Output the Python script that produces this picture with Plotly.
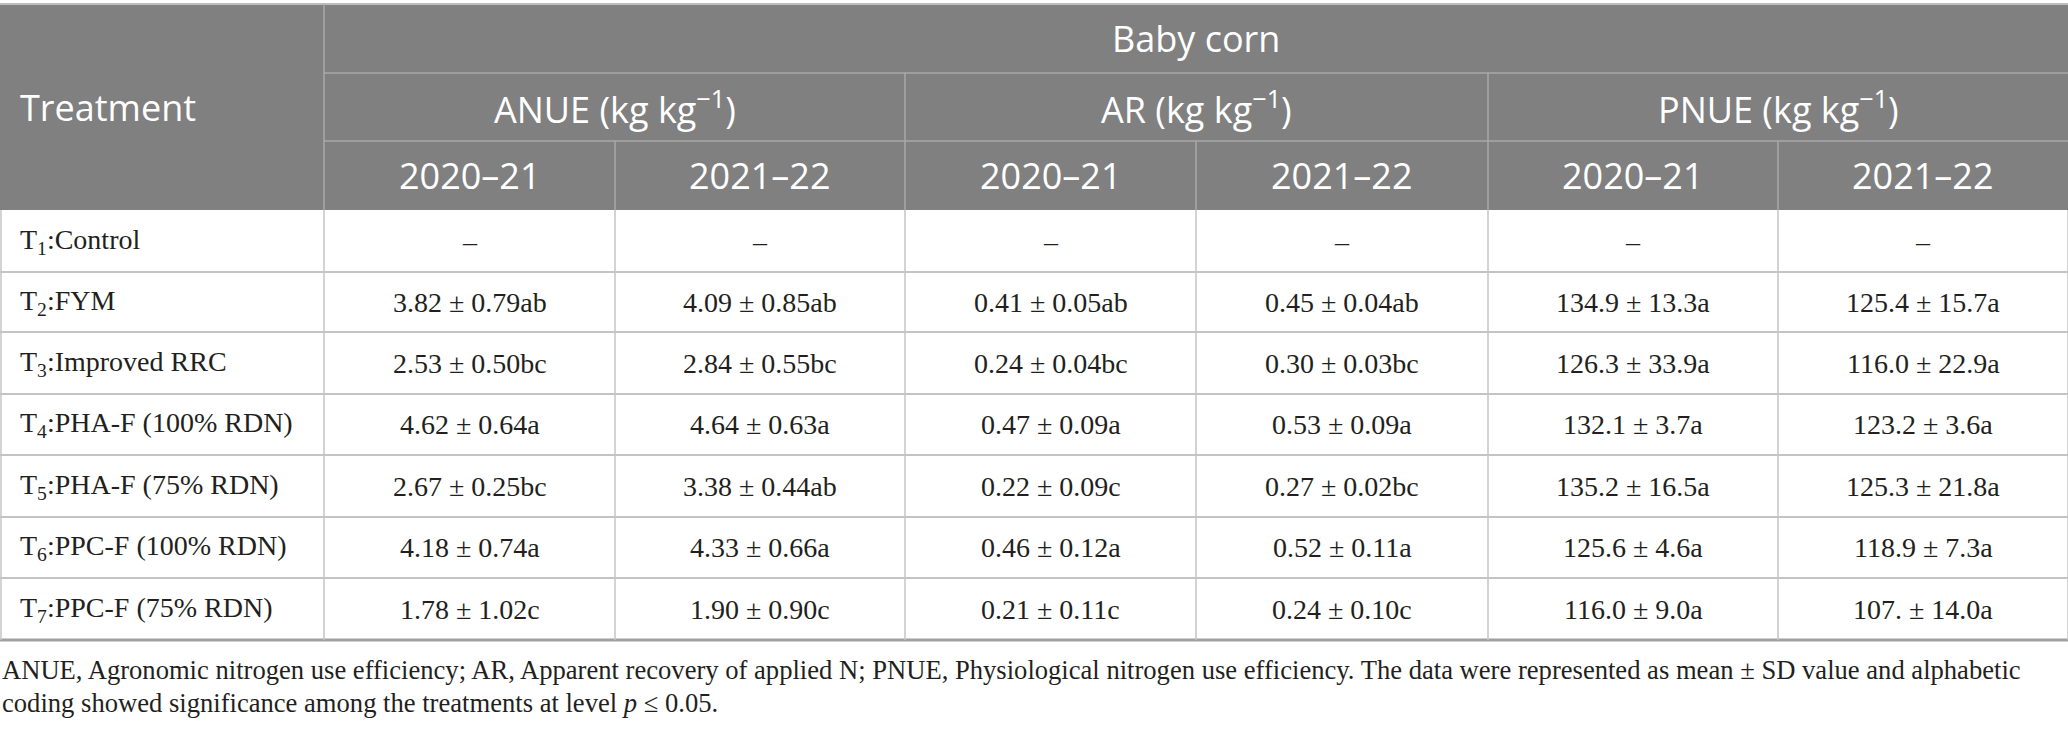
import plotly.graph_objects as go

# table content
treatments = ["T<sub>1</sub>:Control", "T<sub>2</sub>:FYM", "T<sub>3</sub>:Improved RRC",
              "T<sub>4</sub>:PHA-F (100% RDN)", "T<sub>5</sub>:PHA-F (75% RDN)",
              "T<sub>6</sub>:PPC-F (100% RDN)", "T<sub>7</sub>:PPC-F (75% RDN)"]
anue_2021 = ["–", "3.82 ± 0.79ab", "2.53 ± 0.50bc", "4.62 ± 0.64a", "2.67 ± 0.25bc", "4.18 ± 0.74a", "1.78 ± 1.02c"]
anue_2122 = ["–", "4.09 ± 0.85ab", "2.84 ± 0.55bc", "4.64 ± 0.63a", "3.38 ± 0.44ab", "4.33 ± 0.66a", "1.90 ± 0.90c"]
ar_2021 = ["–", "0.41 ± 0.05ab", "0.24 ± 0.04bc", "0.47 ± 0.09a", "0.22 ± 0.09c", "0.46 ± 0.12a", "0.21 ± 0.11c"]
ar_2122 = ["–", "0.45 ± 0.04ab", "0.30 ± 0.03bc", "0.53 ± 0.09a", "0.27 ± 0.02bc", "0.52 ± 0.11a", "0.24 ± 0.10c"]
pnue_2021 = ["–", "134.9 ± 13.3a", "126.3 ± 33.9a", "132.1 ± 3.7a", "135.2 ± 16.5a", "125.6 ± 4.6a", "116.0 ± 9.0a"]
pnue_2122 = ["–", "125.4 ± 15.7a", "116.0 ± 22.9a", "123.2 ± 3.6a", "125.3 ± 21.8a", "118.9 ± 7.3a", "107. ± 14.0a"]

group_title = "Baby corn"
metrics = ["ANUE (kg kg<sup>−1</sup>)", "AR (kg kg<sup>−1</sup>)", "PNUE (kg kg<sup>−1</sup>)"]
seasons = ["2020–21", "2021–22"]
footnote = ["ANUE, Agronomic nitrogen use efficiency; AR, Apparent recovery of applied N; PNUE, Physiological "
            "nitrogen use efficiency. The data were represented as mean ± SD value and alphabetic",
            "coding showed significance among the treatments at level <i>p</i> ≤ 0.05."]

# geometry (pixel units on the axes)
col_edges = [0, 324, 615, 905, 1196, 1488, 1778, 2068]
row_edges = [4, 73, 141, 210, 272, 332, 394, 455, 517, 578, 640]
W, H = 2068, 731

HEAD_BG = "#808080"
HEAD_LINE = "#a8a8a8"
GRID = "#c4c4c4"
TXT = "#231f20"
SANS = "Open Sans"
SERIF = "Liberation Serif"

fig = go.Figure()
shapes = []
annots = []

def line(x0, y0, x1, y1, color, width=1.5):
    shapes.append(dict(type="line", xref="x", yref="y", x0=x0, y0=y0, x1=x1, y1=y1,
                       line=dict(color=color, width=width), layer="above"))

def text(x, y, s, font, size, color, xanchor="center"):
    annots.append(dict(x=x, y=y, xref="x", yref="y", text=s, showarrow=False,
                       xanchor=xanchor, yanchor="middle",
                       font=dict(family=font, size=size, color=color)))

# header background
shapes.append(dict(type="rect", xref="x", yref="y", x0=0, x1=W, y0=row_edges[0], y1=row_edges[3],
                   fillcolor=HEAD_BG, line=dict(width=0), layer="below"))
line(0, row_edges[0], W, row_edges[0], "#bdbdbd", 2)

# header lines
line(col_edges[1], row_edges[0], col_edges[1], row_edges[3], HEAD_LINE)
line(col_edges[1], row_edges[1], W, row_edges[1], HEAD_LINE)
line(col_edges[1], row_edges[2], W, row_edges[2], HEAD_LINE)
for i in range(2, 7):
    top = row_edges[1] if i % 2 == 1 else row_edges[2]
    line(col_edges[i], top, col_edges[i], row_edges[3], HEAD_LINE)

# header text
HS = 36
text(18, (row_edges[0] + row_edges[3]) / 2, "Treatment", SANS, HS, "white", "left")
text((col_edges[1] + W) / 2, (row_edges[0] + row_edges[1]) / 2, group_title, SANS, HS, "white")
for k, m in enumerate(metrics):
    xc = (col_edges[1 + 2 * k] + col_edges[3 + 2 * k]) / 2
    text(xc, (row_edges[1] + row_edges[2]) / 2, m, SANS, HS, "white")
    for j, s in enumerate(seasons):
        c = 1 + 2 * k + j
        text((col_edges[c] + col_edges[c + 1]) / 2, (row_edges[2] + row_edges[3]) / 2, s, SANS, HS, "white")

# body grid
for r in range(4, len(row_edges) - 1):
    line(0, row_edges[r], W, row_edges[r], GRID, 2)
line(0, row_edges[-1], W, row_edges[-1], "#a0a0a0", 3)
for c in range(1, len(col_edges)):
    line(col_edges[c], row_edges[3], col_edges[c], row_edges[-1], GRID)
line(1, row_edges[3], 1, row_edges[-1], GRID)

# body text
BS = 28
columns = [anue_2021, anue_2122, ar_2021, ar_2122, pnue_2021, pnue_2122]
for r, name in enumerate(treatments):
    yc = (row_edges[3 + r] + row_edges[4 + r]) / 2
    text(18, yc, name, SERIF, BS, TXT, "left")
    for c, col in enumerate(columns):
        text((col_edges[c + 1] + col_edges[c + 2]) / 2, yc, col[r], SERIF, BS, TXT)

# footnote
text(0, 670, footnote[0], SERIF, 26.6, TXT, "left")
text(0, 703, footnote[1], SERIF, 26.6, TXT, "left")

fig.update_layout(width=W, height=H, margin=dict(l=0, r=0, t=0, b=0),
                  paper_bgcolor="white", plot_bgcolor="white",
                  shapes=shapes, annotations=annots, showlegend=False)
fig.update_xaxes(range=[0, W], visible=False, fixedrange=True)
fig.update_yaxes(range=[H, 0], visible=False, fixedrange=True)

fig.write_html("out.html", config={"displayModeBar": False},
               post_script="document.body.style.margin='0';")
